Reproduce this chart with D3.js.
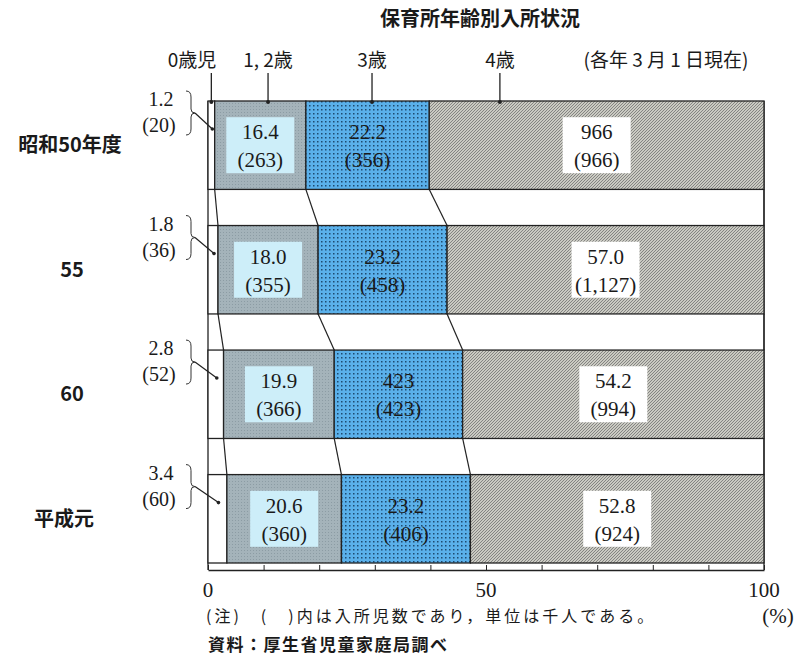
<!DOCTYPE html>
<html>
<head>
<meta charset="utf-8">
<script src="https://cdn.jsdelivr.net/npm/d3@7"></script>
<style>
  body { margin: 0; background: #fff; }
  text { font-family: "Liberation Serif", "DejaVu Serif", "Noto Sans CJK JP", serif; fill: #1a1a1a; }
  .jp { font-family: "Noto Sans CJK JP", sans-serif; }
</style>
</head>
<body>
<script>
// data
const years = ['昭和50年度', '55', '60', '平成元'];
const ages = ['0歳児', '1,2歳', '3歳', '4歳'];
const pct0 = [1.2, 1.8, 2.8, 3.4];
const pct12 = [16.4, 18.0, 19.9, 20.6];
const pct3 = [22.2, 23.2, 23.1, 23.2];
const pct4 = [60.2, 57.0, 54.2, 52.8];
const cnt0 = [20, 36, 52, 60];
const cnt12 = [263, 355, 366, 360];
const cnt3 = [356, 458, 423, 406];
const cnt4 = [966, 1127, 994, 924];
// the printed labels (as they appear in the source, typos kept)
const label3 = ['22.2', '23.2', '423', '23.2'];
const label4 = ['966', '57.0', '54.2', '52.8'];
const xTicks = [0, 10, 20, 30, 40, 50, 60, 70, 80, 90, 100];
const xLabels = [0, 50, 100];

const w = 806, h = 660;
const svg = d3.select('body').append('svg')
    .attr('width', w).attr('height', h);

const defs = svg.append('defs');
const dots = defs.append('pattern').attr('id', 'dots')
    .attr('width', 4).attr('height', 4).attr('patternUnits', 'userSpaceOnUse');
dots.append('rect').attr('width', 4).attr('height', 4).attr('fill', '#5ab0ea');
dots.append('rect').attr('x', 1).attr('y', 1).attr('width', 1.5).attr('height', 1.5).attr('fill', '#1d4a70');
const hatch = defs.append('pattern').attr('id', 'hatch')
    .attr('width', 3).attr('height', 3).attr('patternUnits', 'userSpaceOnUse');
hatch.append('rect').attr('width', 3).attr('height', 3).attr('fill', '#cacac2');
hatch.append('path').attr('d', 'M-1,1 L1,-1 M0,3 L3,0 M2,4 L4,2')
    .attr('stroke', '#666').attr('stroke-width', 0.7);
const grain = defs.append('pattern').attr('id', 'grain')
    .attr('width', 3).attr('height', 3).attr('patternUnits', 'userSpaceOnUse');
grain.append('rect').attr('width', 3).attr('height', 3).attr('fill', '#a4b3ba');
grain.append('rect').attr('x', 1).attr('y', 1).attr('width', 1).attr('height', 1).attr('fill', '#8c9ca4');

const rows = years.map((y, i) => ({
  year: y, '0歳児': pct0[i], '1,2歳': pct12[i], '3歳': pct3[i], '4歳': pct4[i]
}));
const series = d3.stack().keys(ages)(rows);

const xScale = d3.scaleLinear().domain([0, 100]).range([208, 764]);
const yScale = d3.scaleBand().domain(years).range([101, 563]).paddingInner(0.29);
const bw = yScale.bandwidth();

const fills = ['#fff', 'url(#grain)', 'url(#dots)', 'url(#hatch)'];
const labels = [null,
  years.map((d, i) => [pct12[i].toFixed(1), '(' + cnt12[i] + ')']),
  years.map((d, i) => [label3[i], '(' + cnt3[i] + ')']),
  years.map((d, i) => [label4[i], '(' + d3.format(',')(cnt4[i]) + ')'])];
const labelBg = [null, '#cdeef9', null, '#fff'];

// title
svg.append('text').attr('class', 'jp')
    .attr('x', 480).attr('y', 26).attr('text-anchor', 'middle')
    .style('font-size', '20px').style('font-weight', 'bold')
    .text('保育所年齢別入所状況');

// frame lines
svg.append('line').attr('x1', xScale(0)).attr('x2', xScale(0))
    .attr('y1', yScale(years[0])).attr('y2', 570).attr('stroke', '#222').attr('stroke-width', 1.3);
svg.append('line').attr('x1', xScale(100)).attr('x2', xScale(100))
    .attr('y1', yScale(years[0])).attr('y2', 570).attr('stroke', '#222').attr('stroke-width', 1.3);

// segments
series.forEach((s, k) => {
  const g = svg.append('g');
  g.selectAll('rect').data(s).enter().append('rect')
      .attr('x', d => xScale(d[0]))
      .attr('y', d => yScale(d.data.year))
      .attr('width', d => xScale(d[1]) - xScale(d[0]))
      .attr('height', bw)
      .attr('fill', fills[k])
      .attr('stroke', '#222').attr('stroke-width', 1.3);
  if (labels[k]) {
    s.forEach((d, i) => {
      const cx = (xScale(d[0]) + xScale(d[1])) / 2;
      const cy = yScale(d.data.year) + bw / 2;
      if (labelBg[k]) {
        g.append('rect').attr('x', cx - 34).attr('y', cy - 28)
            .attr('width', 68).attr('height', 56).attr('fill', labelBg[k]);
      }
      g.append('text').attr('x', cx).attr('y', cy - 6).attr('text-anchor', 'middle')
          .style('font-size', '21px').text(labels[k][i][0]);
      g.append('text').attr('x', cx).attr('y', cy + 22).attr('text-anchor', 'middle')
          .style('font-size', '21px').text(labels[k][i][1]);
    });
  }
});

// connectors between rows
series.forEach((s, k) => {
  for (let i = 0; i < s.length - 1; i++) {
    svg.append('line')
        .attr('x1', xScale(s[i][1])).attr('y1', yScale(years[i]) + bw)
        .attr('x2', xScale(s[i + 1][1])).attr('y2', yScale(years[i + 1]))
        .attr('stroke', '#222').attr('stroke-width', 1.2);
  }
});

// 0歳児 labels with brace
years.forEach((y, i) => {
  const top = yScale(y);
  svg.append('text').attr('x', 161).attr('y', top + 5).attr('text-anchor', 'middle')
      .style('font-size', '20px').text(pct0[i].toFixed(1));
  svg.append('text').attr('x', 159).attr('y', top + 31).attr('text-anchor', 'middle')
      .style('font-size', '20px').text('(' + cnt0[i] + ')');
  const bx = 186, b0 = top - 10, b1 = top + 34, bm = (b0 + b1) / 2;
  svg.append('path')
      .attr('d', `M${bx},${b0} Q${bx + 5},${b0} ${bx + 5},${b0 + 6} L${bx + 5},${bm - 4} Q${bx + 5},${bm} ${bx + 9},${bm}` +
                 ` Q${bx + 5},${bm} ${bx + 5},${bm + 4} L${bx + 5},${b1 - 6} Q${bx + 5},${b1} ${bx},${b1}`)
      .attr('fill', 'none').attr('stroke', '#333').attr('stroke-width', 1);
  const tx = xScale(pct0[i] / 2) + 1, ty = top + 28;
  svg.append('line').attr('x1', bx + 9).attr('y1', bm).attr('x2', tx).attr('y2', ty)
      .attr('stroke', '#222').attr('stroke-width', 1.2);
  svg.append('circle').attr('cx', tx).attr('cy', ty).attr('r', 1.8).attr('fill', '#222');
});

// row labels
svg.selectAll('.year').data(years).enter().append('text')
    .attr('class', 'jp')
    .attr('x', d => d === '昭和50年度' ? 70 : (d === '平成元' ? 64 : 72))
    .attr('y', d => yScale(d) + bw / 2 + 7)
    .attr('text-anchor', 'middle')
    .style('font-size', '20px').style('font-weight', 'bold')
    .text(d => d);

// header labels with leaders
const headerX = [192, 268, 372, 500];
const headerPt = [0.6, 10.8, 29.5, 52.5];
ages.forEach((a, k) => {
  svg.append('text').attr('class', 'jp').attr('x', headerX[k]).attr('y', 67)
      .attr('text-anchor', 'middle').style('font-size', '19px').text(a.replace(',', ', '));
  const lx = xScale(headerPt[k]);
  svg.append('line').attr('x1', lx).attr('x2', lx).attr('y1', 73).attr('y2', yScale(years[0]))
      .attr('stroke', '#222').attr('stroke-width', 1.3);
  svg.append('circle').attr('cx', lx).attr('cy', yScale(years[0]) + 1).attr('r', 2).attr('fill', '#222');
});
svg.append('text').attr('class', 'jp').attr('x', 666).attr('y', 67)
    .attr('text-anchor', 'middle').style('font-size', '19px').text('(各年 3 月 1 日現在)');

// x axis
const xAxis = d3.axisBottom(xScale).tickValues(xTicks).tickSizeInner(-5).tickSizeOuter(0).tickFormat('');
const ax = svg.append('g').attr('transform', 'translate(0,570)').call(xAxis);
ax.select('.domain').attr('stroke', '#222').attr('stroke-width', 1.3);
ax.selectAll('line').attr('stroke', '#222');
svg.selectAll('.xl').data(xLabels).enter().append('text')
    .attr('x', d => xScale(d)).attr('y', 597).attr('text-anchor', 'middle')
    .style('font-size', '21px').text(d => d);
svg.append('text').attr('x', 778).attr('y', 623).attr('text-anchor', 'middle')
    .style('font-size', '21px').text('(%)');

// notes
svg.append('text').attr('class', 'jp').attr('x', 206).attr('y', 622)
    .style('font-size', '16px').style('letter-spacing', '3px')
    .text('(注)　(　)内は入所児数であり，単位は千人である。');
svg.append('text').attr('class', 'jp').attr('x', 208).attr('y', 651)
    .style('font-size', '17px').style('font-weight', 'bold').style('letter-spacing', '1.5px')
    .text('資料：厚生省児童家庭局調べ');
</script>
</body>
</html>
